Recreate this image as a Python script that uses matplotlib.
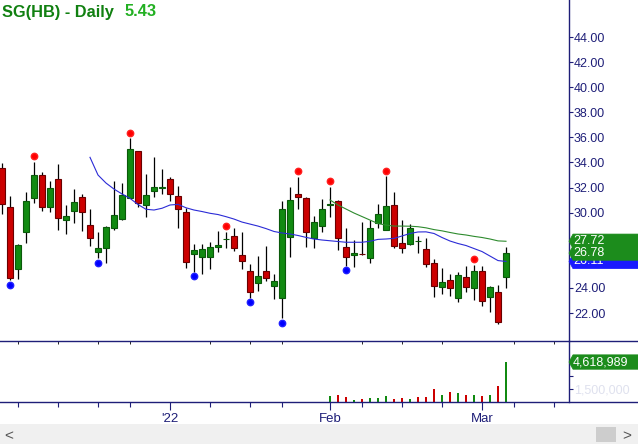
import matplotlib
matplotlib.use('Agg')
import matplotlib.pyplot as plt
import matplotlib.transforms as mtransforms
from matplotlib.patches import Polygon, Rectangle
from matplotlib.lines import Line2D
import numpy as np
import pandas as pd

plt.rcParams['font.family'] = ['Liberation Sans', 'DejaVu Sans']

# trading days shown (Dec 1 2021 is just off the left edge, mid-March is empty space)
holidays = ['2021-12-24', '2022-01-17', '2022-02-21']
days = pd.bdate_range('2021-12-01', '2022-03-18', freq='C', holidays=holidays)
first_candle = 1   # Dec 2

# daily OHLC
opens = [33.53, 30.42, 25.53, 28.48, 31.14, 33.00, 30.47, 32.68, 29.44, 30.15,
         31.25, 29.01, 26.84, 27.16, 28.80, 29.49, 31.19, 34.91, 30.61, 31.75,
         32.00, 32.68, 31.33, 30.03, 26.68, 26.49, 26.49, 27.24, 27.88, 28.14,
         26.60, 25.35, 24.37, 25.35, 24.18, 23.17, 28.08, 31.49, 31.14, 27.95,
         28.96, 30.64, 30.95, 27.24, 26.62, 26.72, 26.36, 29.15, 28.62, 30.61,
         27.56, 27.48, 27.74, 27.08, 26.00, 24.10, 24.63, 23.17, 24.85, 24.02,
         25.35, 23.30, 23.65, 24.85]
highs = [33.93, 31.33, 27.48, 31.62, 34.06, 33.21, 32.52, 33.85, 30.61, 31.88,
         31.46, 30.27, 28.48, 28.93, 32.52, 32.34, 35.93, 34.95, 33.06, 34.41,
         33.45, 32.82, 32.12, 30.39, 27.48, 27.50, 27.68, 28.54, 28.48, 28.75,
         28.43, 25.91, 26.54, 27.34, 25.11, 30.93, 32.07, 32.86, 31.27, 29.73,
         31.09, 32.07, 30.97, 28.75, 27.82, 29.28, 29.41, 30.66, 32.92, 31.67,
         29.41, 29.09, 28.16, 27.95, 26.30, 25.56, 25.08, 25.29, 25.75, 25.83,
         25.75, 24.15, 24.23, 27.24]
lows = [29.87, 24.63, 24.69, 27.56, 30.79, 30.15, 30.03, 28.64, 28.32, 29.15,
        28.56, 27.36, 26.36, 26.01, 28.59, 29.45, 31.15, 30.47, 29.63, 31.22,
        31.46, 30.93, 28.75, 25.61, 25.29, 25.08, 25.48, 26.89, 27.16, 26.97,
        25.51, 23.22, 23.78, 24.57, 23.09, 21.58, 26.49, 30.27, 27.28, 27.16,
        28.43, 29.68, 27.02, 25.77, 25.69, 26.62, 26.01, 28.80, 28.60, 27.16,
        26.76, 27.46, 26.76, 25.69, 23.30, 23.51, 23.38, 22.85, 23.70, 23.04,
        22.58, 22.10, 21.12, 23.97]
closes = [30.66, 24.81, 27.42, 30.93, 32.98, 30.42, 31.94, 29.55, 29.71, 30.82,
          30.03, 27.95, 27.16, 28.83, 29.81, 31.41, 35.07, 30.79, 31.41, 32.07,
          32.06, 31.46, 30.27, 26.04, 27.02, 27.08, 27.24, 27.42, 27.92, 27.16,
          26.17, 23.65, 24.97, 24.81, 24.55, 30.27, 31.01, 31.22, 28.48, 29.23,
          30.27, 30.66, 27.95, 26.44, 26.81, 26.70, 28.80, 29.87, 30.53, 27.34,
          27.16, 28.75, 27.76, 25.88, 24.18, 24.45, 24.02, 25.03, 24.10, 25.35,
          22.98, 24.05, 21.31, 26.78]

# blue moving average (starts at candle 11)
ma_blue_start = 11
ma_blue = [34.41, 33.00, 32.36, 31.88, 31.49, 31.14, 30.65, 30.27, 30.21, 30.35,
           30.61, 30.66, 30.39, 30.21, 30.09, 29.95, 29.85, 29.68, 29.49, 29.25,
           29.09, 28.93, 28.73, 28.50, 28.38, 28.30, 28.18, 28.03, 27.90, 27.82,
           27.76, 27.70, 27.64, 27.64, 27.64, 27.72, 27.87, 27.90, 27.95, 28.14,
           28.34, 28.46, 28.47, 28.34, 28.02, 27.74, 27.54, 27.38, 27.14, 26.90,
           26.54, 26.18, 26.11]
# green moving average (starts at candle 41)
ma_green_start = 41
ma_green = [31.01, 30.61, 30.29, 29.97, 29.69, 29.41, 29.13, 29.01, 28.93, 28.93,
            28.92, 28.88, 28.79, 28.65, 28.55, 28.42, 28.30, 28.22, 28.11, 28.02,
            27.90, 27.75, 27.72]

# swing markers
swing_highs = [4, 16, 28, 37, 41, 48, 59]
swing_lows = [1, 12, 24, 31, 35, 43]

# volume only available from Feb 1 (candle 41)
vol_start = 41
volumes = [710000, 830000, 590000, 240000, 355000, 470000, 470000, 710000, 390000,
           470000, 355000, 590000, 590000, 1540000, 830000, 1180000, 1070000,
           830000, 830000, 710000, 830000, 1900000, 4618989]

title = 'SG(HB) - Daily'
change = '5.43'
price_ticks = [22, 24, 30, 32, 34, 36, 38, 40, 42, 44]

GREEN = '#118a11'
GREEN_EDGE = '#0a5a0a'
RED = '#cc0000'
RED_EDGE = '#6a0000'
NAVY = '#1e1e78'

W, H = 638, 444
XLIM = (-0.25, 70.875)
fig = plt.figure(figsize=(W / 100, H / 100), dpi=100)
fig.patch.set_facecolor('white')

ax = fig.add_axes([0, (H - 341) / H, 569 / W, 341 / H])
axv = fig.add_axes([0, (H - 402) / H, 569 / W, 61 / H], sharex=ax)

n = len(closes)
x = np.arange(n) + first_candle - 1
o = np.array(opens)
c = np.array(closes)
hi = np.array(highs)
lo = np.array(lows)
up = c >= o

# wicks
ax.vlines(x, lo, hi, color='black', lw=0.9, zorder=2)
# bodies
body_h = np.maximum(np.abs(c - o), 0.02)
ax.bar(x[up], body_h[up], bottom=np.minimum(o, c)[up], width=0.72,
       color=GREEN, edgecolor=GREEN_EDGE, lw=0.8, zorder=3)
ax.bar(x[~up], body_h[~up], bottom=np.minimum(o, c)[~up], width=0.72,
       color=RED, edgecolor=RED_EDGE, lw=0.8, zorder=3)

# moving averages
ax.plot(x[ma_blue_start:ma_blue_start + len(ma_blue)], ma_blue, color='#2b2bd6', lw=0.8, zorder=4)
ax.plot(x[ma_green_start:ma_green_start + len(ma_green)], ma_green, color='#2e8b2e', lw=0.8, zorder=4)

# swing dots, a few pixels off the high/low
up_off = mtransforms.offset_copy(ax.transData, fig=fig, x=0, y=5.5, units='dots')
dn_off = mtransforms.offset_copy(ax.transData, fig=fig, x=0, y=-4.5, units='dots')
ax.plot(x[swing_highs], hi[swing_highs], 'o', color='#ff0000', ms=4.6, mec='#ff2020',
        transform=up_off, zorder=5, clip_on=False)
ax.plot(x[swing_lows], lo[swing_lows], 'o', color='#0000ff', ms=4.6, mec='#2020ff',
        transform=dn_off, zorder=5, clip_on=False)

ax.set_ylim(19.77, 46.95)

for a in (ax, axv):
    for s in ('top', 'left', 'bottom'):
        a.spines[s].set_visible(False)
    a.spines['right'].set_color(NAVY)
    a.spines['right'].set_linewidth(1.0)
    a.set_facecolor('none')

ax.yaxis.tick_right()
ax.set_yticks(price_ticks)
ax.set_yticklabels(['%.2f' % v for v in price_ticks])
ax.tick_params(axis='y', colors=NAVY, labelcolor=NAVY, length=3, width=0.8, pad=0.5, labelsize=9)
ax.tick_params(axis='x', bottom=False, labelbottom=False)

# volume panel
vx = x[vol_start:vol_start + len(volumes)]
vup = c[vol_start:] >= c[vol_start - 1:-1]
vcol = [GREEN if u else RED for u in vup]
axv.bar(vx, volumes, width=0.3, color=vcol, zorder=3)
axv.set_ylim(0, 7.05e6)
axv.yaxis.tick_right()
axv.set_yticks([1.5e6, 3.0e6])
axv.set_yticklabels(['1,500,000', ''])
axv.tick_params(axis='y', colors=NAVY, labelcolor='#dfe1ee', length=3, width=0.8, pad=0.5, labelsize=9)

# date axis: one tick a week, month starts labelled
weeks = days.to_period('W')
month_start = np.r_[True, days.month[1:] != days.month[:-1]]
major, minor, labels = [], [], []
for wk in weeks.unique():
    idx = np.where(weeks == wk)[0]
    ms = [i for i in idx if month_start[i]]
    if ms:
        pos = ms[0] - 1
        if XLIM[0] <= pos <= XLIM[1]:
            major.append(pos)
            d = days[ms[0]]
            labels.append("'%s" % d.strftime('%y') if d.month == 1 else d.strftime('%b'))
    else:
        pos = idx[0] - 1
        if XLIM[0] <= pos <= XLIM[1]:
            minor.append(pos)
axv.set_xticks(major)
axv.set_xticklabels(labels)
axv.set_xticks(minor, minor=True)
axv.tick_params(axis='x', which='major', length=6, width=0.8, color=NAVY, labelcolor=NAVY,
                labelsize=9.5, pad=2)
axv.tick_params(axis='x', which='minor', length=3.4, width=0.8, color=NAVY)
ax.set_xlim(*XLIM)


def value_box(a, value, text, color, z):
    lo_, hi_ = a.get_ylim()
    px = a.get_window_extent().height
    hh = 7.2 * (hi_ - lo_) / px
    tr = mtransforms.blended_transform_factory(a.transAxes, a.transData)
    wfrac = 1 / a.get_window_extent().width
    pts = [(1.0, value), (1 + 4 * wfrac, value + hh), (1 + 70 * wfrac, value + hh),
           (1 + 70 * wfrac, value - hh), (1 + 4 * wfrac, value - hh)]
    a.add_patch(Polygon(pts, closed=True, transform=tr, facecolor=color,
                        edgecolor=color, lw=0.5, clip_on=False, zorder=z))
    a.text(1 + 4 * wfrac, value, text, transform=tr, ha='left', va='center',
           color='white', fontsize=9, zorder=z + 0.5, clip_on=False)


value_box(ax, ma_blue[-1], '%.2f' % ma_blue[-1], '#1a1aff', 6)
value_box(ax, ma_green[-1], '%.2f' % ma_green[-1], '#1c8c1c', 7)
value_box(ax, closes[-1], '%.2f' % closes[-1], '#1c8c1c', 8)
value_box(axv, volumes[-1], '{:,}'.format(volumes[-1]), '#1c8c1c', 6)

# panel separators run the full width
for yy in (341, 402):
    fig.add_artist(Line2D([0, 1], [(H - yy) / H] * 2, transform=fig.transFigure,
                          color=NAVY, lw=1.0))

# title
fig.text(2 / W, 1 - 12 / H, title, color='#118011', fontsize=11.8, fontweight='bold',
         ha='left', va='center')
fig.text(125 / W, 1 - 12 / H, change, color='#22b022', fontsize=11.8, fontweight='bold',
         ha='left', va='center')

# scrollbar strip
fig.add_artist(Rectangle((0, 0), 1, 20 / H, transform=fig.transFigure,
                         facecolor='#f0f0f0', edgecolor='none'))
fig.add_artist(Rectangle((596 / W, 2 / H), 20 / W, 15 / H, transform=fig.transFigure,
                         facecolor='#cdcdcd', edgecolor='none'))
fig.text(9 / W, 8 / H, '<', color='#555555', fontsize=11, ha='center', va='center')
fig.text(627 / W, 8 / H, '>', color='#555555', fontsize=11, ha='center', va='center')

fig.savefig('out.png', dpi=100)
